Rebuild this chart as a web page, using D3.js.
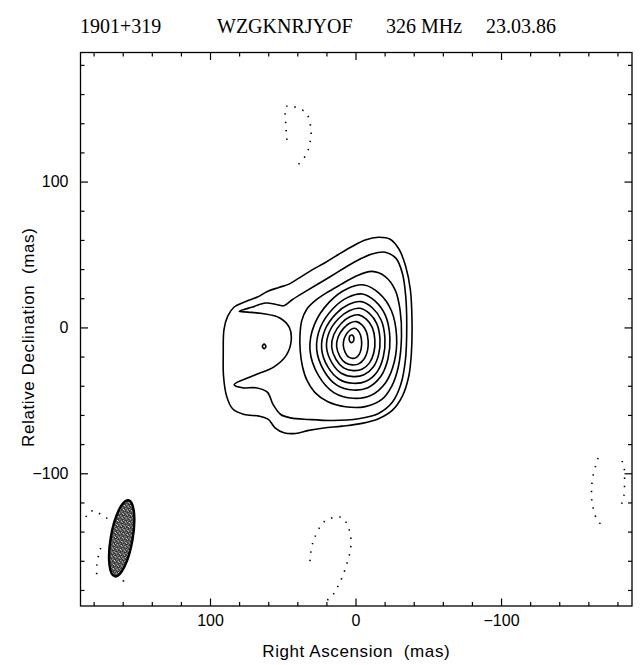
<!DOCTYPE html>
<html>
<head>
<meta charset="utf-8">
<script src="https://cdn.jsdelivr.net/npm/d3@7"></script>
<style>
  body { margin: 0; background: #fff; }
  svg { display: block; }
  .tick text { font-family: "Liberation Sans", Arial, sans-serif; font-size: 16px; fill: #000; }
  .tick line { stroke: #000; stroke-width: 1.2; }
</style>
</head>
<body>
<div id="chart"></div>
<script>
// Header text pieces (serif, top of plot)
const titleParts = ['1901+319', 'WZGKNRJYOF', '326 MHz', '23.03.86'];

// Axis ranges in mas (RA runs right to left)
const raDomain = [189, -190];
const decDomain = [-191, 188.5];
const majorTicks = [100, 0, -100];
const minorTicks = d3.range(-180, 181, 20);

const C1 = [[90.9,-17.5],[90.4,-1.5],[87.9,7.6],[83.4,14.0],[75.4,17.8],[67.4,20.8],[60.6,24.7],[52.6,27.4],[45.7,29.7],[38.9,33.8],[29.8,39.5],[20.7,44.5],[11.5,50.2],[2.4,55.5],[-6.7,60.0],[-15.8,61.8],[-23.8,60.5],[-29.9,53.6],[-34.5,41.8],[-37.7,25.8],[-38.8,5.3],[-38.4,-17.5],[-36.6,-33.5],[-32.2,-47.1],[-25.4,-56.7],[-15.8,-62.6],[-4.4,-65.8],[9.3,-67.7],[21.8,-69.0],[32.1,-70.6],[41.2,-72.7],[49.2,-72.2],[55.3,-68.8],[59.9,-63.1],[66.3,-60.8],[76.5,-59.7],[84.5,-55.8],[88.6,-47.1],[90.7,-33.5]];
const C2 = [[79.9,11.0],[70.8,14.0],[61.7,16.7],[53.7,15.6],[49.2,14.9],[43.5,19.0],[34.3,24.7],[22.9,31.5],[11.5,38.4],[0.1,45.2],[-11.3,50.4],[-20.4,51.6],[-27.7,47.5],[-32.2,37.2],[-34.5,21.3],[-35.2,0.7],[-34.3,-22.1],[-31.1,-39.2],[-25.4,-51.2],[-15.8,-59.0],[-2.1,-62.6],[16.1,-63.8],[32.1,-63.1],[44.6,-62.0],[51.4,-59.7],[56.7,-52.8],[60.6,-44.4],[68.5,-41.4],[77.7,-41.4],[83.4,-39.2],[70.0,-33.0],[56.0,-27.0],[47.5,-19.0],[44.2,-9.0],[45.5,0.0],[52.0,6.5],[64.0,9.5],[74.0,10.5]];
const C2island = [[62.8,-11.4],[61.6,-13.0],[62.8,-14.6],[64.0,-13.0]];
const C3 = [[-11.3,38.4],[-20.4,34.9],[-27.2,25.8],[-30.6,12.1],[-31.6,-6.1],[-29.5,-26.6],[-24.9,-40.3],[-18.1,-49.4],[-6.7,-54.3],[7.0,-54.4],[19.0,-51.0],[28.0,-44.5],[33.5,-36.0],[36.5,-26.6],[38.0,-16.0],[38.2,-6.1],[37.0,4.5],[33.5,12.5],[27.5,18.5],[19.5,24.0],[10.0,29.5],[0.1,34.9]];
const C4 = [[-5.9,29.1],[-16.3,23.3],[-24.6,11.6],[-28.2,-5.9],[-26.7,-23.4],[-20.8,-37.7],[-10.4,-46.7],[1.6,-48.6],[14.9,-44.7],[25.4,-33.1],[31.3,-15.6],[28.3,1.9],[17.9,17.5],[6.0,26.4]];
const C5 = [[-4.7,22.9],[-13.5,18.0],[-20.6,8.1],[-23.6,-6.7],[-22.3,-21.5],[-17.3,-33.7],[-8.5,-41.3],[1.6,-42.9],[12.9,-39.6],[21.7,-29.7],[26.7,-14.9],[24.2,-0.1],[15.4,13.0],[5.3,20.6]];
const C6 = [[-3.9,17.7],[-11.5,13.5],[-17.6,5.1],[-20.2,-7.5],[-19.1,-20.1],[-14.8,-30.5],[-7.2,-36.9],[1.6,-38.3],[11.3,-35.5],[19.0,-27.1],[23.3,-14.5],[21.1,-1.9],[13.5,9.3],[4.8,15.7]];
const C7 = [[-3.0,13.1],[-9.5,9.6],[-14.6,2.6],[-16.8,-8.0],[-15.9,-18.5],[-12.2,-27.2],[-5.8,-32.5],[1.6,-33.7],[9.8,-31.4],[16.2,-24.3],[19.9,-13.8],[18.1,-3.3],[11.6,6.1],[4.3,11.5]];
const C8 = [[-2.2,8.6],[-7.4,5.7],[-11.5,0.0],[-13.3,-8.6],[-12.6,-17.2],[-9.6,-24.3],[-4.4,-28.7],[1.6,-29.6],[8.2,-27.7],[13.4,-22.0],[16.4,-13.4],[14.9,-4.8],[9.7,2.9],[3.8,7.3]];
const C9 = [[-0.6,4.0],[-4.4,1.8],[-7.4,-2.7],[-8.7,-9.4],[-8.2,-16.1],[-6.0,-21.5],[-2.2,-25.0],[2.2,-25.7],[7.0,-24.2],[10.8,-19.8],[13.0,-13.1],[11.9,-6.4],[8.1,-0.5],[3.8,3.0]];
const C10 = [[0.5,-0.6],[-1.7,-2.1],[-3.4,-5.2],[-4.2,-9.9],[-3.9,-14.5],[-2.6,-18.3],[-0.4,-20.7],[2.1,-21.2],[4.9,-20.2],[7.1,-17.1],[8.4,-12.5],[7.8,-7.8],[5.6,-3.7],[3.1,-1.3]];
const C11 = [[2.3,-5.2],[1.3,-6.5],[1.1,-8.3],[1.9,-10.0],[3.2,-10.4],[4.2,-9.0],[4.3,-7.0],[3.5,-5.5]];

// Negative (dotted) contours, open arcs
const negTop = [[47.1,128.6],[47.8,137.5],[47.8,151.2],[45.7,151.9],[34.0,147.1],[30.6,134.8],[31.3,126.5],[34.0,118.3],[39.5,111.5]];
const negBottom = [[31.3,-160.2],[29.2,-147.1],[21.0,-132.7],[12.0,-130.0],[8.6,-130.7],[4.5,-138.2],[3.1,-146.4],[3.8,-154.0],[5.8,-161.5],[8.6,-169.8],[12.0,-177.3],[16.2,-184.2],[22.3,-189.0]];
const negRightA = [[-166.7,-89.5],[-163.2,-101.9],[-162.2,-111.5],[-162.5,-119.7],[-166.0,-132.0],[-169.4,-135.5]];
const negRightB = [[-183.2,-91.6],[-184.5,-95.7],[-184.9,-106.0],[-184.2,-116.9],[-182.8,-121.1],[-181.4,-125.2]];
const negLeftA = [[185.2,-130.0],[183.2,-126.5],[179.0,-125.9],[171.1,-130.7],[167.0,-130.0]];
const negLeftB = [[175.1,-151.2],[176.4,-155.3],[177.8,-163.5],[177.8,-171.8]];
const negDots = [[159.5,-173.8]];

// Restoring beam (mas, degrees)
const beamRA = 160.7, beamDec = -144.6, beamMajor = 53, beamMinor = 15, beamPA = 10;

const posContours = [C1, C2, C3, C4, C5, C6, C7, C8, C9, C10, C11, C2island];
const negContours = [negTop, negBottom, negRightA, negRightB, negLeftA, negLeftB];

const W = 641, H = 665;
const plot = { left: 80.5, right: 632, top: 52.5, bottom: 606 };
const labelFont = '"Liberation Sans", Arial, sans-serif';

const svg = d3.select('#chart').append('svg')
    .attr('width', W)
    .attr('height', H);

const x = d3.scaleLinear().domain(raDomain).range([plot.left, plot.right]);
const y = d3.scaleLinear().domain(decDomain).range([plot.bottom, plot.top]);

// Stipple pattern for the beam
const defs = svg.append('defs');
const pat = defs.append('pattern')
    .attr('id', 'stipple')
    .attr('width', 4).attr('height', 4)
    .attr('patternUnits', 'userSpaceOnUse');
pat.append('rect').attr('width', 4).attr('height', 4).attr('fill', '#333');
[[0, 0, '#cfcfcf'], [2, 1, '#ffffff'], [1, 3, '#9a9a9a'], [3, 2, '#e0e0e0'], [1, 1, '#666']].forEach(([px, py, c]) => {
    pat.append('rect').attr('x', px).attr('y', py).attr('width', 1).attr('height', 1).attr('fill', c);
});
defs.append('clipPath').attr('id', 'clip')
    .append('rect')
    .attr('x', plot.left).attr('y', plot.top)
    .attr('width', plot.right - plot.left).attr('height', plot.bottom - plot.top);

// Title
const titleX = [80, 217, 386, 486];
svg.selectAll('.title')
    .data(titleParts)
    .enter()
    .append('text')
    .attr('x', (d, i) => titleX[i])
    .attr('y', 33)
    .style('font-family', '"Liberation Serif", "Times New Roman", serif')
    .style('font-size', '20px')
    .text(d => d);

const g = svg.append('g').attr('clip-path', 'url(#clip)');

const closedLine = d3.line()
    .x(d => x(d[0]))
    .y(d => y(d[1]))
    .curve(d3.curveCatmullRomClosed.alpha(0.5));

const openLine = d3.line()
    .x(d => x(d[0]))
    .y(d => y(d[1]))
    .curve(d3.curveCatmullRom.alpha(0.5));

g.selectAll('.pos')
    .data(posContours)
    .enter()
    .append('path')
    .attr('d', closedLine)
    .attr('fill', 'none')
    .attr('stroke', '#000')
    .attr('stroke-width', 1.6)
    .attr('stroke-linejoin', 'round');

g.selectAll('.neg')
    .data(negContours)
    .enter()
    .append('path')
    .attr('d', openLine)
    .attr('fill', 'none')
    .attr('stroke', '#000')
    .attr('stroke-width', 1.6)
    .attr('stroke-dasharray', '1.4 7');

g.selectAll('.negdot')
    .data(negDots)
    .enter()
    .append('rect')
    .attr('x', d => x(d[0]) - 0.8)
    .attr('y', d => y(d[1]) - 0.8)
    .attr('width', 1.6)
    .attr('height', 1.6)
    .attr('fill', '#000');

// Beam ellipse
const bx = x(beamRA), by = y(beamDec);
g.append('ellipse')
    .attr('cx', bx)
    .attr('cy', by)
    .attr('rx', Math.abs(x(beamMinor / 2) - x(0)))
    .attr('ry', Math.abs(y(beamMajor / 2) - y(0)))
    .attr('transform', `rotate(${beamPA},${bx},${by})`)
    .attr('fill', 'url(#stipple)')
    .attr('stroke', '#000')
    .attr('stroke-width', 2.4);

// Axes: inward ticks on all four sides
function addAxis(axisFn, transform, values, size, labels) {
    const a = axisFn.tickValues(values).tickSizeInner(-size).tickSizeOuter(0);
    if (!labels) a.tickFormat('');
    const sel = svg.append('g').attr('transform', transform).call(a);
    sel.select('.domain').remove();
    return sel;
}
const minor = minorTicks.filter(v => !majorTicks.includes(v));

addAxis(d3.axisBottom(x).tickPadding(9), `translate(0,${plot.bottom})`, minor, 4, false);
addAxis(d3.axisBottom(x).tickPadding(9), `translate(0,${plot.bottom})`, majorTicks, 7.5, true);
addAxis(d3.axisTop(x), `translate(0,${plot.top})`, minor, 4, false);
addAxis(d3.axisTop(x), `translate(0,${plot.top})`, majorTicks, 7.5, false);
addAxis(d3.axisLeft(y).tickPadding(12), `translate(${plot.left},0)`, minor, 4, false);
addAxis(d3.axisLeft(y).tickPadding(12), `translate(${plot.left},0)`, majorTicks, 7.5, true);
addAxis(d3.axisRight(y), `translate(${plot.right},0)`, minor, 4, false);
addAxis(d3.axisRight(y), `translate(${plot.right},0)`, majorTicks, 7.5, false);

// Frame
svg.append('rect')
    .attr('x', plot.left).attr('y', plot.top)
    .attr('width', plot.right - plot.left)
    .attr('height', plot.bottom - plot.top)
    .attr('fill', 'none')
    .attr('stroke', '#000')
    .attr('stroke-width', 1.3);

// Axis titles
svg.append('text')
    .attr('x', (plot.left + plot.right) / 2)
    .attr('y', 657)
    .attr('text-anchor', 'middle')
    .style('font-family', labelFont)
    .style('font-size', '17px')
    .style('letter-spacing', '0.6px')
    .style('white-space', 'pre')
    .text('Right Ascension  (mas)');

svg.append('text')
    .attr('transform', `translate(34,${(plot.top + plot.bottom) / 2 + 8}) rotate(-90)`)
    .attr('text-anchor', 'middle')
    .style('font-family', labelFont)
    .style('font-size', '17px')
    .style('letter-spacing', '0.6px')
    .style('white-space', 'pre')
    .text('Relative Declination  (mas)');
</script>
</body>
</html>
